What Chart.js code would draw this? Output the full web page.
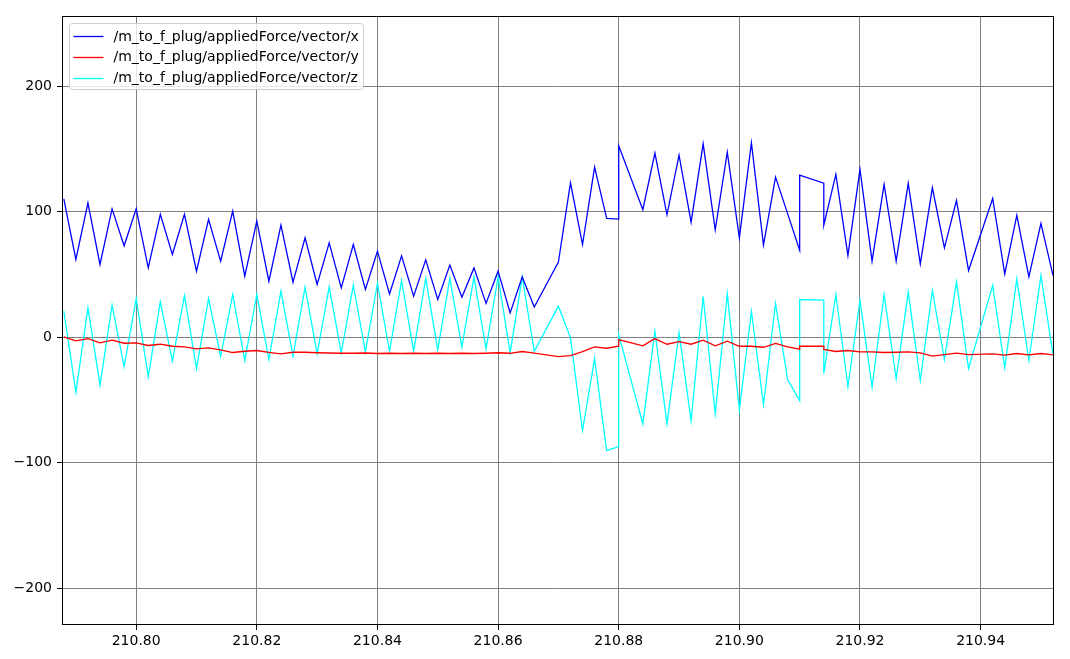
<!DOCTYPE html>
<html>
<head>
<meta charset="utf-8">
<script src="https://cdn.jsdelivr.net/npm/chart.js@4.4.0/dist/chart.umd.min.js"></script>
<style>
  html, body { margin: 0; padding: 0; background: #ffffff; }
  canvas { display: block; }
</style>
</head>
<body>
<canvas id="c" width="1070" height="659" style="width:1070px;height:659px"></canvas>
<script>
// ---- data ----
const times = [
  210.788, 210.790, 210.792, 210.794, 210.796, 210.798, 210.800, 210.802, 210.804, 210.806,
  210.808, 210.810, 210.812, 210.814, 210.816, 210.818, 210.820, 210.822, 210.824, 210.826,
  210.828, 210.830, 210.832, 210.834, 210.836, 210.838, 210.840, 210.842, 210.844, 210.846,
  210.848, 210.850, 210.852, 210.854, 210.856, 210.858, 210.860, 210.862, 210.864, 210.866,
  210.870, 210.872, 210.874, 210.876, 210.878, 210.880, 210.880,
  210.884, 210.886, 210.888, 210.890, 210.892, 210.894, 210.896, 210.898, 210.900, 210.902,
  210.904, 210.906, 210.908, 210.910, 210.910, 210.914, 210.914,
  210.916, 210.918, 210.920, 210.922, 210.924, 210.926, 210.928, 210.930, 210.932, 210.934,
  210.936, 210.938, 210.942, 210.944, 210.946, 210.948, 210.950, 210.952
];
const forceX = [
  110.2, 61.9, 106.8, 57.9, 102.2, 72.8, 102.2, 55.3, 97.8, 65.9,
  97.8, 52.6, 93.8, 60.6, 100.4, 48.6, 92.4, 44.6, 89.2, 43.8,
  79.1, 42.0, 75.1, 39.3, 73.8, 38.0, 68.5, 34.5, 64.8, 32.7,
  61.6, 30.0, 57.4, 31.9, 55.2, 26.9, 52.6, 19.4, 48.0, 24.0,
  59.8, 123.0, 73.8, 135.5, 94.6, 94.0, 152.4,
  101.5, 146.6, 97.5, 145.0, 91.6, 154.0, 85.5, 147.4, 79.1, 154.8,
  73.3, 127.5, 98.4, 69.3, 129.0, 122.7, 89.2,
  129.6, 65.1, 133.6, 60.6, 121.7, 60.6, 122.5, 58.4, 119.0, 71.2,
  108.9, 53.1, 110.5, 50.5, 97.0, 48.0, 90.6, 49.2
];
const forceY = [
  0.3, -2.9, -1.1, -4.5, -2.4, -4.8, -4.5, -6.6, -5.6, -7.2,
  -7.7, -9.3, -8.5, -10.1, -12.2, -11.2, -10.6, -12.0, -13.3, -12.0,
  -12.0, -12.4, -12.6, -12.8, -12.8, -12.6, -13.0, -12.8, -13.0, -12.8,
  -13.0, -12.8, -13.0, -12.8, -13.0, -12.8, -12.4, -12.8, -11.4, -12.6,
  -15.5, -14.6, -11.4, -7.7, -8.8, -7.2, -1.9,
  -6.9, -1.1, -5.6, -3.5, -5.6, -2.4, -6.9, -3.2, -7.2, -7.2,
  -8.0, -5.0, -7.7, -9.6, -7.2, -7.2, -9.8,
  -11.4, -10.6, -11.7, -11.7, -12.2, -12.0, -11.7, -12.5, -15.1, -13.8,
  -12.7, -13.8, -13.3, -14.3, -13.0, -14.1, -13.0, -14.1
];
const forceZ = [
  20.7, -43.8, 23.3, -38.2, 25.5, -23.4, 30.8, -31.6, 28.1, -19.1,
  33.2, -25.0, 30.8, -15.4, 34.0, -18.6, 34.0, -17.8, 36.7, -15.1,
  39.8, -13.3, 40.1, -12.5, 41.4, -11.7, 43.0, -11.2, 45.2, -11.2,
  46.8, -10.1, 46.8, -7.7, 48.0, -9.3, 48.0, -12.5, 48.0, -11.2,
  24.7, -0.5, -74.3, -17.0, -90.3, -87.1, 2.1,
  -69.0, 4.8, -69.0, 3.7, -66.4, 32.4, -61.1, 34.5, -57.9, 20.5,
  -53.6, 26.9, -33.7, -50.5, 30.0, 29.5, -28.9,
  34.0, -39.3, 29.5, -39.8, 34.0, -32.9, 35.9, -34.5, 37.2, -17.8,
  44.1, -25.0, 41.4, -24.4, 46.5, -18.6, 49.2, -13.8
];
const seriesLabels = [
  '/m_to_f_plug/appliedForce/vector/x',
  '/m_to_f_plug/appliedForce/vector/y',
  '/m_to_f_plug/appliedForce/vector/z'
];
const seriesColors = ['#0000ff', '#ff0000', '#00ffff'];
const xTicks = [210.80, 210.82, 210.84, 210.86, 210.88, 210.90, 210.92, 210.94];
const yTicks = [-200, -100, 0, 100, 200];
const xRange = [210.7877, 210.9520];
const yRange = [-229.2, 255.8];

// ---- build ----
const FONT = 'DejaVu Sans';
const toPts = vals => vals.map((v, i) => ({ x: times[i], y: v }));
const datasets = [forceX, forceY, forceZ].map((vals, i) => ({
  label: seriesLabels[i],
  data: toPts(vals),
  borderColor: seriesColors[i],
  backgroundColor: seriesColors[i],
  borderWidth: 1.3,
  pointRadius: 0,
  tension: 0,
  fill: false
}));

const frameAndLegend = {
  id: 'frameAndLegend',
  afterDraw(chart) {
    const ctx = chart.ctx;
    const a = chart.chartArea;
    ctx.save();
    ctx.strokeStyle = '#000000';
    ctx.lineWidth = 1;
    const L = Math.round(a.left) + 0.5, T = Math.round(a.top) + 0.5;
    const R = Math.round(a.right) + 0.5, B = Math.round(a.bottom) - 0.5;
    ctx.strokeRect(L, T, R - L, B - T);

    // legend box
    const bx = a.left + 7.5, by = a.top + 7.5, bw = 294, bh = 66, r = 3;
    ctx.beginPath();
    ctx.moveTo(bx + r, by);
    ctx.lineTo(bx + bw - r, by);
    ctx.arcTo(bx + bw, by, bx + bw, by + r, r);
    ctx.lineTo(bx + bw, by + bh - r);
    ctx.arcTo(bx + bw, by + bh, bx + bw - r, by + bh, r);
    ctx.lineTo(bx + r, by + bh);
    ctx.arcTo(bx, by + bh, bx, by + bh - r, r);
    ctx.lineTo(bx, by + r);
    ctx.arcTo(bx, by, bx + r, by, r);
    ctx.closePath();
    ctx.fillStyle = 'rgba(255,255,255,0.8)';
    ctx.fill();
    ctx.strokeStyle = '#cccccc';
    ctx.stroke();

    ctx.font = '14px "' + FONT + '"';
    ctx.textBaseline = 'middle';
    ctx.textAlign = 'left';
    chart.data.datasets.forEach((ds, i) => {
      const cy = by + 12.5 + i * 20.8;
      ctx.strokeStyle = ds.borderColor;
      ctx.lineWidth = 1.3;
      ctx.beginPath();
      ctx.moveTo(bx + 4, Math.round(cy) + 0.5);
      ctx.lineTo(bx + 34, Math.round(cy) + 0.5);
      ctx.stroke();
      ctx.fillStyle = '#000000';
      ctx.fillText(ds.label, bx + 44, cy + 1);
    });
    ctx.restore();
  }
};

new Chart(document.getElementById('c'), {
  type: 'line',
  data: { datasets },
  plugins: [frameAndLegend],
  options: {
    responsive: false,
    devicePixelRatio: 1,
    animation: false,
    layout: { padding: { left: 0, top: 16, right: 17, bottom: 0 } },
    plugins: { legend: { display: false }, tooltip: { enabled: false } },
    scales: {
      x: {
        type: 'linear',
        min: xRange[0],
        max: xRange[1],
        afterBuildTicks: s => { s.ticks = xTicks.map(v => ({ value: v })); },
        afterFit: s => { s.height = 34; },
        ticks: {
          callback: v => Number(v).toFixed(2),
          color: '#000000',
          font: { family: FONT, size: 14 },
          padding: 3,
          maxRotation: 0,
          autoSkip: false
        },
        grid: { color: '#808080', lineWidth: 1, tickColor: '#000000', tickLength: 5, drawTicks: true },
        border: { display: false }
      },
      y: {
        type: 'linear',
        min: yRange[0],
        max: yRange[1],
        afterBuildTicks: s => { s.ticks = yTicks.map(v => ({ value: v })); },
        afterFit: s => { s.width = 62; },
        ticks: {
          callback: v => (v < 0 ? '\u2212' + Math.abs(v) : String(v)),
          color: '#000000',
          font: { family: FONT, size: 14 },
          padding: 5,
          autoSkip: false
        },
        grid: { color: '#808080', lineWidth: 1, tickColor: '#000000', tickLength: 5, drawTicks: true },
        border: { display: false }
      }
    }
  }
});
</script>
</body>
</html>
